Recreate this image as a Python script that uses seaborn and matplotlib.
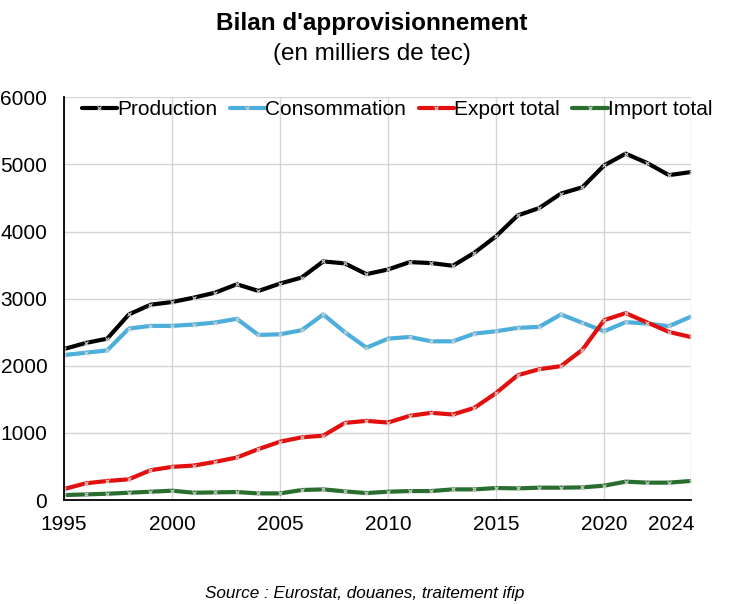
import pandas as pd
import numpy as np
import matplotlib.pyplot as plt
import matplotlib.transforms as mtransforms
import seaborn as sns

# Data (milliers de tec)
years = list(range(1995, 2025))
production = [2250, 2340, 2405, 2765, 2910, 2950, 3015, 3090, 3215, 3115,
              3225, 3315, 3555, 3525, 3365, 3435, 3545, 3530, 3490, 3685,
              3930, 4240, 4350, 4565, 4660, 4985, 5160, 5020, 4840, 4885]
consommation = [2160, 2195, 2230, 2555, 2595, 2595, 2615, 2645, 2700, 2460,
                2470, 2530, 2765, 2500, 2270, 2405, 2430, 2365, 2365, 2480,
                2515, 2565, 2580, 2765, 2640, 2515, 2650, 2630, 2590, 2730]
export_total = [165, 250, 285, 310, 445, 495, 515, 570, 635, 760,
                870, 935, 960, 1150, 1180, 1155, 1255, 1300, 1275, 1375,
                1595, 1860, 1950, 1995, 2240, 2680, 2785, 2645, 2505, 2430]
import_total = [75, 85, 95, 110, 125, 140, 110, 115, 120, 100,
                100, 150, 160, 130, 105, 125, 135, 135, 160, 160,
                180, 175, 185, 185, 190, 215, 275, 260, 260, 285]

series_names = ["Production", "Consommation", "Export total", "Import total"]
series_colors = ["#000000", "#4BAEDB", "#E30E0E", "#2A6E2F"]
x_ticks = [1995, 2000, 2005, 2010, 2015, 2020, 2024]

df = pd.DataFrame({
    "Année": years,
    "Production": production,
    "Consommation": consommation,
    "Export total": export_total,
    "Import total": import_total,
})
long_df = df.melt(id_vars="Année", var_name="Série", value_name="Valeur")

sns.set_style("white")
plt.rcParams["font.family"] = ["Liberation Sans", "DejaVu Sans"]
for key in ["text.color", "axes.labelcolor", "xtick.color", "ytick.color"]:
    plt.rcParams[key] = "black"

fig = plt.figure(figsize=(7.31, 6.04), dpi=100)
ax = fig.add_axes([0.0876, 0.172, 0.857, 0.667])

sns.lineplot(data=long_df, x="Année", y="Valeur", hue="Série",
             hue_order=series_names, palette=series_colors,
             linewidth=3, marker="x", markersize=3,
             markeredgecolor="#D0D0D0", markeredgewidth=0.8,
             ax=ax, legend=False)

ax.set_xlim(1995, 2024)
ax.set_ylim(0, 6000)
ax.set_xticks(x_ticks)
ax.set_yticks(np.arange(0, 6001, 1000))
ax.set_xlabel("")
ax.set_ylabel("")
ax.tick_params(axis="both", length=0, labelsize=15, colors="black")
ax.tick_params(axis="y", pad=12)
ax.tick_params(axis="x", pad=11)

# last year label is pushed left so it stays inside the plot width
last_lbl = ax.get_xticklabels()[-1]
last_lbl.set_transform(last_lbl.get_transform() +
                       mtransforms.ScaledTranslation(-19 / 100, 0, fig.dpi_scale_trans))

ax.grid(True, color="#D4D4D4", linewidth=1)
ax.set_axisbelow(True)
for side in ["top", "right"]:
    ax.spines[side].set_visible(False)
ax.spines["left"].set_color("black")
ax.spines["bottom"].set_color("black")
ax.spines["left"].set_linewidth(1.3)
ax.spines["bottom"].set_linewidth(1.3)

handles = ax.get_lines()[:4]
fig.legend(handles, series_names, loc="center", bbox_to_anchor=(0.543, 0.819),
           ncol=4, frameon=False, fontsize=15, handlelength=1.7,
           handletextpad=0.0, columnspacing=0.6)

fig.text(0.509, 0.961, "Bilan d'approvisionnement", ha="center", va="center",
         fontsize=17.5, fontweight="bold")
fig.text(0.509, 0.911, "(en milliers de tec)", ha="center", va="center",
         fontsize=17.5)
fig.text(0.499, 0.018, "Source : Eurostat, douanes, traitement ifip",
         ha="center", va="center", fontsize=12.3, style="italic")

fig.savefig("out.png", dpi=100)
